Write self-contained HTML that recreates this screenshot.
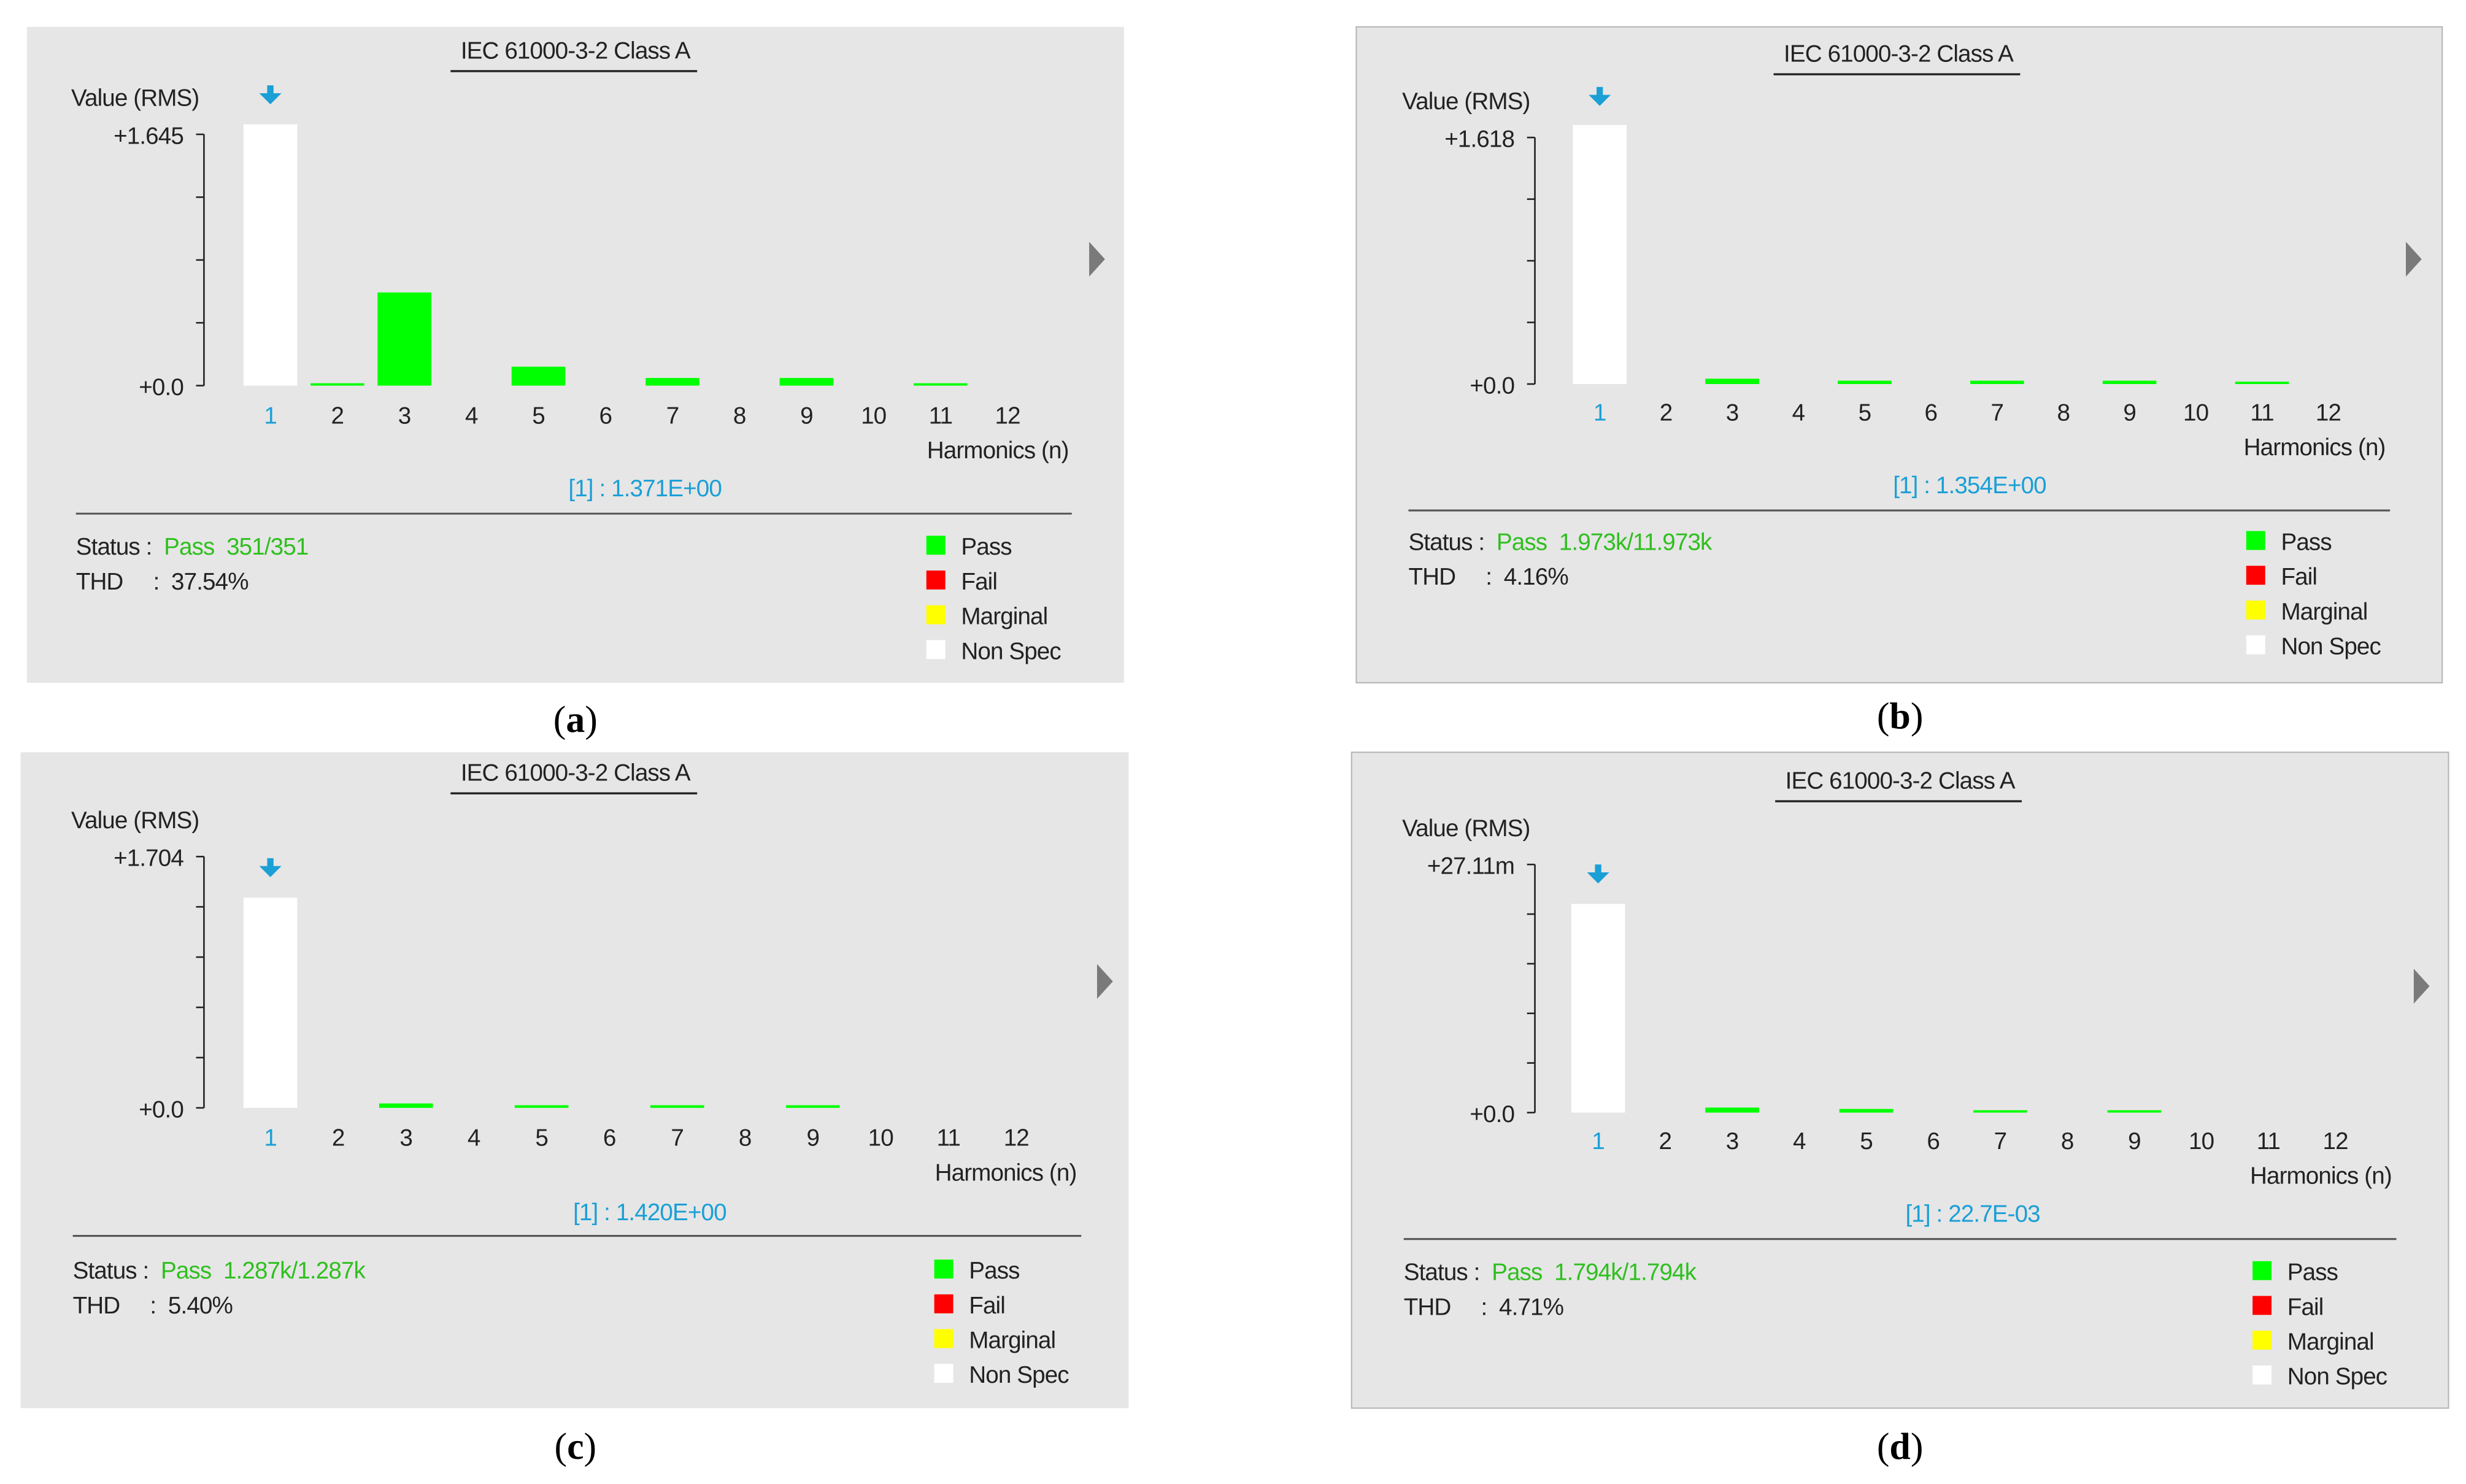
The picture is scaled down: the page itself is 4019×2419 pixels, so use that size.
<!DOCTYPE html>
<html><head><meta charset="utf-8"><style>
html,body{margin:0;padding:0;background:#fff;}
svg{display:block;}
.t{font-family:"Liberation Sans Narrow","Liberation Sans",sans-serif;font-size:15px;letter-spacing:-0.35px;fill:#222;white-space:pre;}
.cap{font-family:"Liberation Serif",serif;font-size:24px;fill:#000;}
</style></head><body>
<svg id="fig" width="4019" height="2419" viewBox="0 0 1560 939" xmlns="http://www.w3.org/2000/svg" xml:space="preserve"></svg>
<script>
const categories = [1,2,3,4,5,6,7,8,9,10,11,12];
const valuesA = [1.71,0.01,0.61,0,0.124,0,0.05,0,0.05,0,0.008,0];
const valuesB = [1.70,0,0.035,0,0.022,0,0.022,0,0.022,0,0.01,0];
const valuesC = [1.425,0,0.03,0,0.018,0,0.018,0,0.018,0,0,0];
const valuesD = [22.8,0,0.55,0,0.4,0,0.17,0,0.17,0,0,0];
const axisMaxes = [1.645,1.618,1.704,27.11];
const topLabels = ["+1.645","+1.618","+1.704","+27.11m"];
const readouts = ["[1] : 1.371E+00","[1] : 1.354E+00","[1] : 1.420E+00","[1] : 22.7E-03"];
const statusCounts = ["351/351","1.973k/11.973k","1.287k/1.287k","1.794k/1.794k"];
const thdValues = ["37.54%","4.16%","5.40%","4.71%"];
const captions = ["a","b","c","d"];

const NS="http://www.w3.org/2000/svg";
const svg=document.getElementById('fig');
function mk(tag,attrs,parent,text){const e=document.createElementNS(NS,tag);for(const k in attrs)e.setAttribute(k,attrs[k]);if(text!==undefined)e.textContent=text;(parent||svg).appendChild(e);return e;}

const layouts=[
 {px:17,py:17,pw:694,ph:415,tx:364,ty:37,ax:129,top:85,zero:244,x1:171,dx:42.4,ly:268,hx:676,hy:290,rx:408,ry:314,sl:48,sr:678,sy:325,st:351,lgx:586,lgy:351,trx:689,try:164,ay:60,ticks:4,capx:364,capy:463,border:false},
 {px:858,py:17,pw:687,ph:415,tx:1201,ty:39,ax:971,top:87,zero:243,x1:1012,dx:41.9,ly:266,hx:1509,hy:288,rx:1246,ry:312,sl:891,sr:1512,sy:323,st:348,lgx:1421,lgy:348,trx:1522,try:164,ay:61,ticks:4,capx:1202,capy:461,border:true},
 {px:13,py:476,pw:701,ph:415,tx:364,ty:494,ax:129,top:542,zero:701,x1:171,dx:42.9,ly:725,hx:681,hy:747,rx:411,ry:772,sl:46,sr:684,sy:782,st:809,lgx:591,lgy:809,trx:694,try:621,ay:549,ticks:5,capx:364,capy:923,border:false},
 {px:855,py:476,pw:694,ph:415,tx:1202,ty:499,ax:971,top:547,zero:704,x1:1011,dx:42.4,ly:727,hx:1513,hy:749,rx:1248,ry:773,sl:888,sr:1516,sy:784,st:810,lgx:1425,lgy:810,trx:1527,try:624,ay:553,ticks:5,capx:1202,capy:923,border:true}
];
const allValues=[valuesA,valuesB,valuesC,valuesD];
const legend=[["Pass","#00ff00"],["Fail","#ff0000"],["Marginal","#ffff00"],["Non Spec","#ffffff"]];

layouts.forEach((L,i)=>{
  const g=mk('g',{});
  
  
  const bg=mk('rect',{x:L.px,y:L.py,width:L.pw,height:L.ph,fill:'#e6e6e6',stroke:L.border?'#b5b5b5':'none','stroke-width':0.8},g);
  
  
  const tt=mk('text',{x:L.tx,y:L.ty,class:'t','text-anchor':'middle'},g,'IEC 61000-3-2 Class A');
  
  
  mk('line',{x1:L.tx-79,x2:L.tx+77,y1:L.ty+8,y2:L.ty+8,stroke:'#222','stroke-width':1.3},g);
  const yt=mk('text',{x:L.ax-84,y:L.top-18,class:'t'},g,'Value (RMS)');
  
  
  const ymax=axisMaxes[i];
  const yS=v=>L.zero-(v/ymax)*(L.zero-L.top);
  const xS=k=>L.x1+(k-1)*L.dx;
  const ax=mk('line',{x1:L.ax,x2:L.ax,y1:L.top,y2:L.zero,stroke:'#222','stroke-width':1},g);
  
  
  for(let t=0;t<=L.ticks;t++){const y=yS(ymax*t/L.ticks);mk('line',{x1:L.ax-5,x2:L.ax,y1:y,y2:y,stroke:'#222','stroke-width':1},g);}
  const tl=mk('text',{x:L.ax-13,y:L.top+6,class:'t','text-anchor':'end'},g,topLabels[i]);
  
  
  const zl=mk('text',{x:L.ax-13,y:L.zero+6,class:'t','text-anchor':'end'},g,'+0.0');
  
  
  allValues[i].forEach((v,j)=>{
    const k=categories[j];
    if(v>0){
      const y=yS(v);
      const h=Math.max(L.zero-y,1.5);
      const b=mk('rect',{x:xS(k)-17,y:L.zero-h,width:34,height:h,fill:j===0?'#ffffff':'#00ff00'},g);
      
      
    }
    const lab=mk('text',{x:xS(k),y:L.ly,class:'t','text-anchor':'middle',style:j===0?'fill:#1a9fd6':''},g,String(k));
    
    
  });
  const cx=xS(1);
  const ar=mk('path',{d:`M${cx-2},${L.ay-6}h4v5h5l-7,7l-7,-7h5z`,fill:'#1a9fd6'},g);
  
  
  const hx=mk('text',{x:L.hx,y:L.hy,class:'t','text-anchor':'end'},g,'Harmonics (n)');
  
  
  const rd=mk('text',{x:L.rx,y:L.ry,class:'t','text-anchor':'middle',style:'fill:#1a9fd6'},g,readouts[i]);
  
  
  mk('line',{x1:L.sl,x2:L.sr,y1:L.sy,y2:L.sy,stroke:'#555','stroke-width':1.2},g);
  const tr=mk('path',{d:`M${L.trx},${L.try-11}l10,11l-10,11z`,fill:'#7a7a7a'},g);
  
  
  const s=mk('text',{x:L.sl,y:L.st,class:'t'},g);
  
  
  mk('tspan',{},s,'Status :  ');
  mk('tspan',{style:'fill:#2fbf1f'},s,'Pass  '+statusCounts[i]);
  const th=mk('text',{x:L.sl,y:L.st+22,class:'t'},g,'THD     :  '+thdValues[i]);
  
  
  legend.forEach((e,m)=>{
    const y=L.lgy+m*22;
    const sw=mk('rect',{x:L.lgx,y:y-12,width:12,height:12,fill:e[1]},g);
    
    
    const lt=mk('text',{x:L.lgx+22,y:y,class:'t'},g,e[0]);
    
    
  });
  const cp=mk('text',{x:L.capx,y:L.capy,class:'cap','text-anchor':'middle'},svg);
  
  
  mk('tspan',{},cp,'(');
  mk('tspan',{'font-weight':'bold'},cp,captions[i]);
  mk('tspan',{},cp,')');
});
</script>
</body></html>
